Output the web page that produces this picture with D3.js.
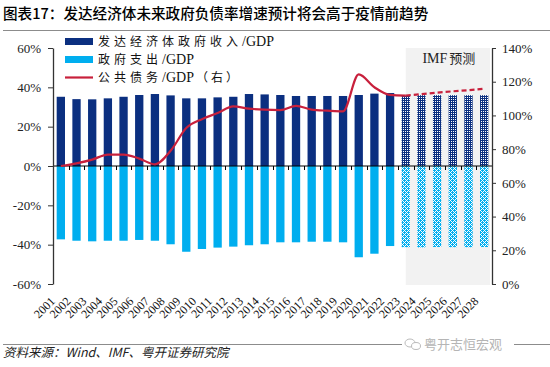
<!DOCTYPE html>
<html>
<head>
<meta charset="utf-8">
<script src="https://cdn.jsdelivr.net/npm/d3@7"></script>
<style>
  html, body { margin: 0; padding: 0; background: #fff; }
  svg { display: block; }
</style>
</head>
<body>
<svg id="chart" width="550" height="367"></svg>
<script>
// ---------- data ----------
const years = ["2001","2002","2003","2004","2005","2006","2007","2008","2009","2010",
  "2011","2012","2013","2014","2015","2016","2017","2018","2019","2020",
  "2021","2022","2023","2024","2025","2026","2027","2028"];
const revenue = [35.2, 34.0, 33.9, 34.4, 35.2, 36.1, 36.6, 35.9, 34.4, 34.4,
  34.9, 35.2, 36.6, 36.4, 36.1, 35.6, 35.6, 35.6, 35.6, 36.1,
  36.8, 37.1, 36.0, 36.0, 36.0, 36.0, 36.0, 36.0];
const spending = [-37.3, -38.0, -38.3, -38.0, -38.0, -37.6, -38.0, -39.8, -43.6, -42.2,
  -41.5, -41.0, -40.3, -39.8, -38.8, -38.8, -38.5, -38.5, -38.8, -46.4,
  -44.6, -40.7, -41.3, -41.4, -41.2, -41.3, -41.3, -41.2];
const debt = [70.0, 71.6, 73.8, 76.8, 76.8, 74.4, 71.0, 79.0, 92.5, 97.8,
  101.4, 105.4, 104.0, 103.4, 103.2, 105.7, 103.4, 102.8, 102.4, 124.3,
  116.7, 112.2, 111.8, 112.6, 113.5, 114.3, 115.0, 115.9];
const forecastStart = "2023";
const leftTicks = [-60, -40, -20, 0, 20, 40, 60];
const rightTicks = [0, 20, 40, 60, 80, 100, 120, 140];
const seriesNames = ["发达经济体政府收入/GDP", "政府支出/GDP", "公共债务/GDP（右）"];
const titleText = "图表17：发达经济体未来政府负债率增速预计将会高于疫情前趋势";
const sourceText = "资料来源：Wind、IMF、粤开证券研究院";
const forecastLabel = "IMF预测";
const watermark = "粤开志恒宏观";

// ---------- setup ----------
const svg = d3.select("#chart");
const C_REV = "#0B2F80", C_SPD = "#00AEEF", C_DEBT = "#C8203C";
const L = 53, R = 492, T = 48, B = 284;
const serif = "'Liberation Serif','Times New Roman',serif";
const cjk = "'Noto Sans CJK SC','Noto Sans',sans-serif";

const x = d3.scaleBand().domain(years).range([L, R]).paddingInner(0.47).paddingOuter(0.235);
const step = x.step();
const yL = d3.scaleLinear().domain([-60, 60]).range([B, T]);
const yR = d3.scaleLinear().domain([0, 140]).range([B, T]);
const isFc = d => +d >= +forecastStart;

// patterns
const defs = svg.append("defs");
function makePattern(id, color, whites) {
  const p = defs.append("pattern").attr("id", id).attr("patternUnits", "userSpaceOnUse")
    .attr("width", 4).attr("height", 4);
  p.append("rect").attr("width", 4).attr("height", 4).attr("fill", color);
  whites.forEach(w => p.append("rect").attr("x", w[0]).attr("y", w[1]).attr("width", 1).attr("height", 1).attr("fill", "#fff"));
}
makePattern("hatchRev", C_REV, [[1,1],[3,3],[3,1],[1,3]]);
makePattern("hatchSpd", C_SPD, [[1,1],[3,3],[3,1],[1,3],[0,2],[2,0]]);

// title
svg.append("text").attr("x", 3).attr("y", 19).attr("font-family", cjk).attr("font-size", 14.6)
  .attr("font-weight", 500).attr("fill", "#000").text(titleText);
svg.append("line").attr("x1", 3).attr("x2", 550).attr("y1", 30.5).attr("y2", 30.5)
  .attr("stroke", "#8c8c8c").attr("stroke-width", 1);

// forecast shade
const fcX0 = x(forecastStart) + x.bandwidth() / 2;
svg.append("rect").attr("x", fcX0).attr("y", T).attr("width", R - 2 - fcX0).attr("height", B - T + 1)
  .attr("fill", "#F2F2F2");
svg.append("text").attr("x", (fcX0 + R) / 2).attr("y", 63).attr("text-anchor", "middle")
  .attr("font-size", 14).attr("fill", "#222")
  .call(t => {
    t.append("tspan").attr("font-family", serif).text(forecastLabel.slice(0, 3));
    t.append("tspan").attr("font-family", cjk).attr("font-size", 13).attr("dx", 2).text(forecastLabel.slice(3));
  });

// bars
const data = years.map((d, i) => ({ year: d, rev: revenue[i], spd: spending[i] }));
svg.append("g").selectAll("rect").data(data).join("rect")
  .attr("x", d => x(d.year)).attr("width", x.bandwidth())
  .attr("y", d => yL(d.rev)).attr("height", d => yL(0) - yL(d.rev))
  .attr("fill", d => isFc(d.year) ? "url(#hatchRev)" : C_REV);
svg.append("g").selectAll("rect").data(data).join("rect")
  .attr("x", d => x(d.year)).attr("width", x.bandwidth())
  .attr("y", yL(0)).attr("height", d => yL(d.spd) - yL(0))
  .attr("fill", d => isFc(d.year) ? "url(#hatchSpd)" : C_SPD);

// zero axis with ticks
svg.append("line").attr("x1", L).attr("x2", R).attr("y1", yL(0)).attr("y2", yL(0))
  .attr("stroke", "#000").attr("stroke-width", 1);
svg.append("g").selectAll("line").data(years.slice(1)).join("line")
  .attr("x1", d => Math.round(x(d) - (step - x.bandwidth()) / 2) + 0.5)
  .attr("x2", d => Math.round(x(d) - (step - x.bandwidth()) / 2) + 0.5)
  .attr("y1", yL(0)).attr("y2", yL(0) + 4).attr("stroke", "#000").attr("stroke-width", 1);

// debt line
const line = d3.line().x(d => x(d.year) + x.bandwidth() / 2).y(d => yR(d.v)).curve(d3.curveMonotoneX);
const debtData = years.map((d, i) => ({ year: d, v: debt[i] }));
const fi = years.indexOf(forecastStart);
svg.append("path").datum(debtData.slice(0, fi + 1)).attr("d", line)
  .attr("fill", "none").attr("stroke", C_DEBT).attr("stroke-width", 2.2);
svg.append("path").datum(debtData.slice(fi)).attr("d", line)
  .attr("fill", "none").attr("stroke", C_DEBT).attr("stroke-width", 2.2)
  .attr("stroke-dasharray", "5,3");

// left axis
const axL = d3.axisLeft(yL).tickValues(leftTicks).tickFormat(d => d + "%").tickSize(5).tickSizeOuter(0);
const gL = svg.append("g").attr("transform", `translate(${L},0)`).call(axL);
gL.select(".domain").attr("stroke", "#333").attr("stroke-width", 1.3);
gL.selectAll(".tick line").attr("stroke", "#333");
gL.selectAll("text").attr("font-family", serif).attr("font-size", 13).attr("fill", "#222").attr("x", -12);

// right axis
const axR = d3.axisRight(yR).tickValues(rightTicks).tickFormat(d => d + "%").tickSize(4).tickSizeOuter(0);
const gR = svg.append("g").attr("transform", `translate(${R},0)`).call(axR);
gR.select(".domain").attr("stroke", "#333").attr("stroke-width", 1.3);
gR.selectAll(".tick line").attr("stroke", "#333");
gR.selectAll("text").attr("font-family", serif).attr("font-size", 13).attr("fill", "#222").attr("x", 10);

// x labels
svg.append("g").selectAll("text").data(years).join("text")
  .attr("transform", d => `translate(${x(d) + x.bandwidth() / 2 - 5},302) rotate(-45)`)
  .attr("text-anchor", "end").attr("font-family", serif).attr("font-size", 12).attr("fill", "#111")
  .text(d => d);

// legend
const lg = svg.append("g");
const legendRows = [
  { name: seriesNames[0], type: "rect", color: C_REV, y: 41.5 },
  { name: seriesNames[1], type: "rect", color: C_SPD, y: 59.5 },
  { name: seriesNames[2], type: "line", color: C_DEBT, y: 77.5 }
];
legendRows.forEach(r => {
  if (r.type === "rect") {
    lg.append("rect").attr("x", 65).attr("y", r.y - 3.5).attr("width", 28).attr("height", 7).attr("fill", r.color);
  } else {
    lg.append("line").attr("x1", 65).attr("x2", 93).attr("y1", r.y).attr("y2", r.y)
      .attr("stroke", r.color).attr("stroke-width", 2.2);
  }
  const m = r.name.match(/^([^/]*)(\/GDP)(.*)$/);
  const t = lg.append("text").attr("x", 98).attr("y", r.y + 4.5).attr("font-size", 12).attr("fill", "#111");
  t.append("tspan").attr("font-family", cjk).attr("letter-spacing", 4).text(m[1]);
  t.append("tspan").attr("font-family", serif).attr("font-size", 14).text(m[2]);
  if (m[3]) t.append("tspan").attr("font-family", cjk).attr("letter-spacing", 3).attr("dx", 2).text(m[3]);
});

// bottom rule, source and watermark
svg.append("line").attr("x1", 3).attr("x2", 550).attr("y1", 344.5).attr("y2", 344.5)
  .attr("stroke", "#8c8c8c").attr("stroke-width", 1);
svg.append("rect").attr("x", 402).attr("y", 336).attr("width", 112).attr("height", 16).attr("fill", "#fff");
const wm = svg.append("g").attr("transform", "translate(410,344)").attr("fill", "none").attr("stroke", "#bbb").attr("stroke-width", 1);
wm.append("ellipse").attr("cx", 0).attr("cy", -1).attr("rx", 5).attr("ry", 4);
wm.append("ellipse").attr("cx", 6).attr("cy", 2).attr("rx", 4.5).attr("ry", 3.5).attr("fill", "#fff");
svg.append("text").attr("x", 424).attr("y", 349).attr("font-family", cjk).attr("font-size", 13)
  .attr("fill", "#b5b5b5").text(watermark);
svg.append("text").attr("x", 3).attr("y", 357).attr("font-family", cjk).attr("font-style", "italic")
  .attr("font-size", 12.5).attr("fill", "#222").text(sourceText);
</script>
</body>
</html>
